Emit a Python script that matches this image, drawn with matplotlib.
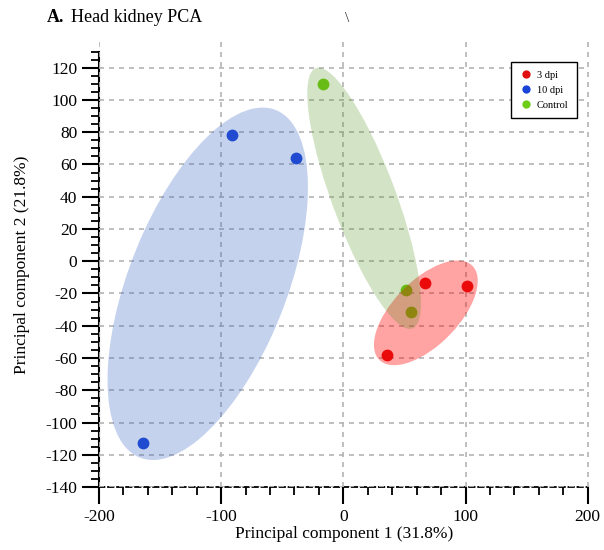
import numpy as np
import matplotlib.pyplot as plt
from matplotlib.patches import Ellipse
from matplotlib.ticker import MultipleLocator

plt.rcParams['font.family'] = ['Liberation Serif', 'DejaVu Serif']
plt.rcParams['axes.unicode_minus'] = False

# PCA scores per group
groups = ['3 dpi', '10 dpi', 'Control']
pc1_3dpi = [36, 67, 101]
pc2_3dpi = [-58, -13.5, -15.5]
pc1_10dpi = [-91, -39, -164]
pc2_10dpi = [78, 64, -113]
pc1_ctrl = [-17, 51.5, 55]
pc2_ctrl = [110, -18, -31.5]

# group ellipses: centre x, centre y, width, height, angle (data units)
ell_3dpi = (67.5, -32, 97, 45, 33)
ell_10dpi = (-111, -14, 244, 123, 59)
ell_ctrl = (17, 39, 180, 50, -63)

point_colors = ['#e01010', '#1a44d8', '#6fcc14']
fill_colors = ['#ff0000', '#3060c0', '#53931a']
fill_alpha = [0.36, 0.28, 0.25]

fig = plt.figure(figsize=(6.04, 5.5), dpi=100)
ax = fig.add_axes([0.1639, 0.1145, 0.8112, 0.8091])

xs = [pc1_3dpi, pc1_10dpi, pc1_ctrl]
ys = [pc2_3dpi, pc2_10dpi, pc2_ctrl]
for x, y, c, lab in zip(xs, ys, point_colors, groups):
    ax.plot(x, y, 'o', color=c, markersize=8.5, label=lab, zorder=3,
            markeredgewidth=0)

for (cx, cy, w, h, a), c, al in zip([ell_3dpi, ell_10dpi, ell_ctrl],
                                     fill_colors, fill_alpha):
    ax.add_patch(Ellipse((cx, cy), w, h, angle=a, facecolor=c, alpha=al,
                         edgecolor='none', zorder=4))

ax.set_xlim(-200, 201)
ax.set_ylim(-140, 135.9)

ax.xaxis.set_major_locator(MultipleLocator(100))
ax.xaxis.set_minor_locator(MultipleLocator(20))
ax.set_yticks(np.arange(-140, 121, 20))
ax.set_yticks(np.arange(-140, 131, 5), minor=True)

ax.grid(True, which='major', color='#b4b4b4', linestyle=(0, (3, 3)),
        linewidth=1.2, zorder=2)
ax.set_axisbelow(False)

for s in ['top', 'right']:
    ax.spines[s].set_visible(False)
ax.spines['left'].set_linewidth(1.5)
ax.spines['left'].set_bounds(-140, 130)
ax.spines['bottom'].set_linewidth(1.3)
ax.spines['bottom'].set_linestyle((0, (3, 2)))
ax.spines['bottom'].set_bounds(-200, 200)

ax.tick_params(which='major', direction='out', length=12, width=1.5,
               labelsize=12.5, colors='black')
ax.tick_params(which='minor', direction='out', length=6, width=1.3)

ax.set_xlabel('Principal component 1 (31.8%)', fontsize=12.5, labelpad=1)
ax.set_ylabel('Principal component 2 (21.8%)', fontsize=12.5, labelpad=11)

leg = ax.legend(loc='upper right', bbox_to_anchor=(0.9755, 0.955),
                borderaxespad=0, fontsize=7.5, markerscale=0.7, frameon=True,
                fancybox=False, framealpha=1, edgecolor='black',
                handletextpad=0.4, borderpad=0.8, labelspacing=0.55,
                handlelength=1.3)
leg.get_frame().set_linewidth(1.0)
leg.set_zorder(6)

fig.text(0.077, 0.968, 'A.', fontsize=13, fontweight='bold', va='center',
         ha='left')
fig.text(0.118, 0.968, 'Head kidney PCA', fontsize=13, va='center', ha='left')
fig.text(0.5745, 0.966, '\\', fontsize=11, va='center', ha='center',
         color='#333333')

fig.savefig('out.png', dpi=100)
